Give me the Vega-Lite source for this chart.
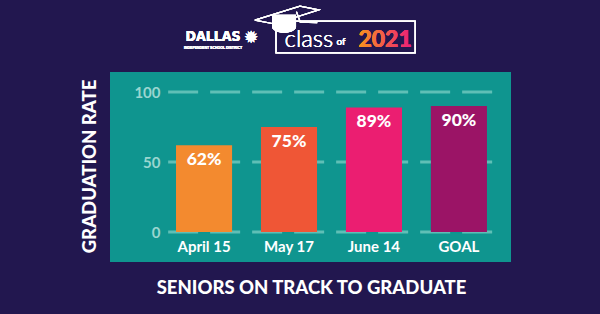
{
  "$schema": "https://vega.github.io/schema/vega-lite/v6.json",
  "width": 401,
  "height": 190,
  "autosize": "none",
  "padding": {"left": 110, "top": 72, "right": 89, "bottom": 52},
  "background": "#22174f",
  "config": {
    "view": {"fill": "#0f958f", "stroke": null},
    "font": "Lato"
  },
  "data": {"values": [
    {"date": "April 15", "rate": 62, "label": "62%"},
    {"date": "May 17", "rate": 75, "label": "75%"},
    {"date": "June 14", "rate": 89, "label": "89%"},
    {"date": "GOAL", "rate": 90, "label": "90%"}
  ]},
  "resolve": {"scale": {"x": "independent"}, "axis": {"x": "independent", "y": "independent"}},
  "layer": [
    {
      "data": {"values": [{"tick": 0}, {"tick": 50}, {"tick": 100}]},
      "mark": {"type": "rule", "strokeDash": [30, 12], "strokeWidth": 3, "color": "#5fbfb6"},
      "encoding": {
        "y": {"field": "tick", "type": "quantitative", "axis": null},
        "x": {"datum": 0.145, "type": "quantitative", "scale": {"domain": [0, 1], "nice": false, "zero": false}, "axis": null},
        "x2": {"datum": 0.958}
      }
    },
    {
      "encoding": {
        "x": {
          "field": "date", "type": "nominal", "sort": null,
          "scale": {"paddingInner": 0.34, "paddingOuter": 0.53, "align": 0.733},
          "axis": {
            "orient": "bottom", "offset": -24, "domain": false, "ticks": false,
            "labelAngle": 0, "labelColor": "#ffffff", "labelFont": "Lato", "labelFontWeight": "bold",
            "labelFontSize": 15, "labelPadding": 1, "labelBaseline": "top",
            "title": "SENIORS ON TRACK TO GRADUATE", "titleColor": "#ffffff", "titleFont": "Lato",
            "titleFontWeight": 900, "titleFontSize": 18.5, "titleX": 201, "titleY": 49,
            "titleAlign": "center", "titleBaseline": "middle", "titleAnchor": null
          }
        },
        "y": {
          "field": "rate", "type": "quantitative",
          "scale": {"domain": [-21.4, 114.3], "nice": false, "zero": false},
          "axis": {
            "orient": "left", "offset": -58, "values": [0, 50, 100], "domain": false, "ticks": false,
            "grid": false, "labelColor": "#9ad6cf", "labelFont": "Lato", "labelFontWeight": "bold",
            "labelFontSize": 15, "labelPadding": 8,
            "title": "GRADUATION RATE", "titleColor": "#ffffff", "titleFont": "Lato", "titleFontWeight": 900,
            "titleFontSize": 18.5, "titleAngle": -90, "titleX": -79, "titleY": 94,
            "titleAlign": "center", "titleBaseline": "middle"
          }
        }
      },
      "layer": [
        {
          "mark": {"type": "bar"},
          "encoding": {
            "y2": {"datum": 0},
            "color": {
              "field": "date", "type": "nominal", "legend": null,
              "scale": {"domain": ["April 15", "May 17", "June 14", "GOAL"], "range": ["#f38a2f", "#ef5636", "#eb1e71", "#9b1466"]}
            }
          }
        },
        {
          "mark": {"type": "text", "baseline": "top", "dy": 6, "color": "#ffffff", "font": "Lato", "fontWeight": 900, "fontSize": 17.5},
          "encoding": {"text": {"field": "label"}}
        }
      ]
    },
    {
      "mark": {"type": "rect", "fill": null, "stroke": "#ffffff", "strokeWidth": 1.2, "clip": false},
      "encoding": {
        "x": {"datum": 0.414, "type": "quantitative", "scale": {"domain": [0, 1], "nice": false, "zero": false}, "axis": null},
        "x2": {"datum": 0.761},
        "y": {"datum": 150.7, "type": "quantitative", "axis": null},
        "y2": {"datum": 127.9}
      }
    },
    {
      "mark": {"type": "point", "shape": "M-1,0.16L0.41,-0.28L1,-0.16L-0.38,0.28Z M0.3,-0.1L0.42,0.22L0.95,0.24", "filled": false, "stroke": "#ffffff", "strokeWidth": 1.2, "size": 4096, "opacity": 1, "clip": false},
      "encoding": {
        "x": {"datum": 0.441, "type": "quantitative", "scale": {"domain": [0, 1], "nice": false, "zero": false}, "axis": null},
        "y": {"datum": 155, "type": "quantitative", "axis": null}
      }
    },
    {
      "mark": {"type": "point", "shape": "M-1,-0.6L1,-0.6L1,0.4A1,0.5 0 0 1 -1,0.4Z", "filled": true, "fill": "#ffffff", "size": 576, "opacity": 1, "clip": false},
      "encoding": {
        "x": {"datum": 0.434, "type": "quantitative", "scale": {"domain": [0, 1], "nice": false, "zero": false}, "axis": null},
        "y": {"datum": 150, "type": "quantitative", "axis": null}
      }
    },
    {
      "mark": {"type": "text", "text": "DALLAS", "font": "'DejaVu Sans Condensed', 'Liberation Sans', sans-serif", "fontWeight": "bold", "fontSize": 14, "color": "#ffffff", "baseline": "middle", "clip": false},
      "encoding": {
        "x": {"datum": 0.257, "type": "quantitative", "scale": {"domain": [0, 1], "nice": false, "zero": false}, "axis": null},
        "y": {"datum": 139.5, "type": "quantitative", "axis": null}
      }
    },
    {
      "mark": {"type": "text", "text": "INDEPENDENT SCHOOL DISTRICT", "font": "'Liberation Sans', sans-serif", "fontWeight": "bold", "fontSize": 3.5, "color": "#ffffff", "baseline": "middle", "clip": false},
      "encoding": {
        "x": {"datum": 0.257, "type": "quantitative", "scale": {"domain": [0, 1], "nice": false, "zero": false}, "axis": null},
        "y": {"datum": 131.4, "type": "quantitative", "axis": null}
      }
    },
    {
      "mark": {"type": "text", "text": "✹", "font": "DejaVu Sans", "fontSize": 17, "color": "#ffffff", "baseline": "middle", "clip": false},
      "encoding": {
        "x": {"datum": 0.352, "type": "quantitative", "scale": {"domain": [0, 1], "nice": false, "zero": false}, "axis": null},
        "y": {"datum": 138.6, "type": "quantitative", "axis": null}
      }
    },
    {
      "mark": {"type": "text", "text": "class", "font": "Lato", "fontWeight": 300, "fontSize": 24, "color": "#ffffff", "baseline": "middle", "clip": false},
      "encoding": {
        "x": {"datum": 0.496, "type": "quantitative", "scale": {"domain": [0, 1], "nice": false, "zero": false}, "axis": null},
        "y": {"datum": 137.3, "type": "quantitative", "axis": null}
      }
    },
    {
      "mark": {"type": "text", "text": "of", "font": "Lato", "fontWeight": 400, "fontSize": 10, "color": "#ffffff", "baseline": "middle", "clip": false},
      "encoding": {
        "x": {"datum": 0.576, "type": "quantitative", "scale": {"domain": [0, 1], "nice": false, "zero": false}, "axis": null},
        "y": {"datum": 135.7, "type": "quantitative", "axis": null}
      }
    },
    {
      "mark": {"type": "text", "text": "2021", "font": "Lato", "fontWeight": 900, "fontSize": 23, "baseline": "middle", "clip": false,
        "color": {"gradient": "linear", "x1": 0, "x2": 1, "y1": 0, "y2": 0, "stops": [{"offset": 0, "color": "#f7941d"}, {"offset": 1, "color": "#ec1e79"}]}},
      "encoding": {
        "x": {"datum": 0.686, "type": "quantitative", "scale": {"domain": [0, 1], "nice": false, "zero": false}, "axis": null},
        "y": {"datum": 137.3, "type": "quantitative", "axis": null}
      }
    }
  ]
}
